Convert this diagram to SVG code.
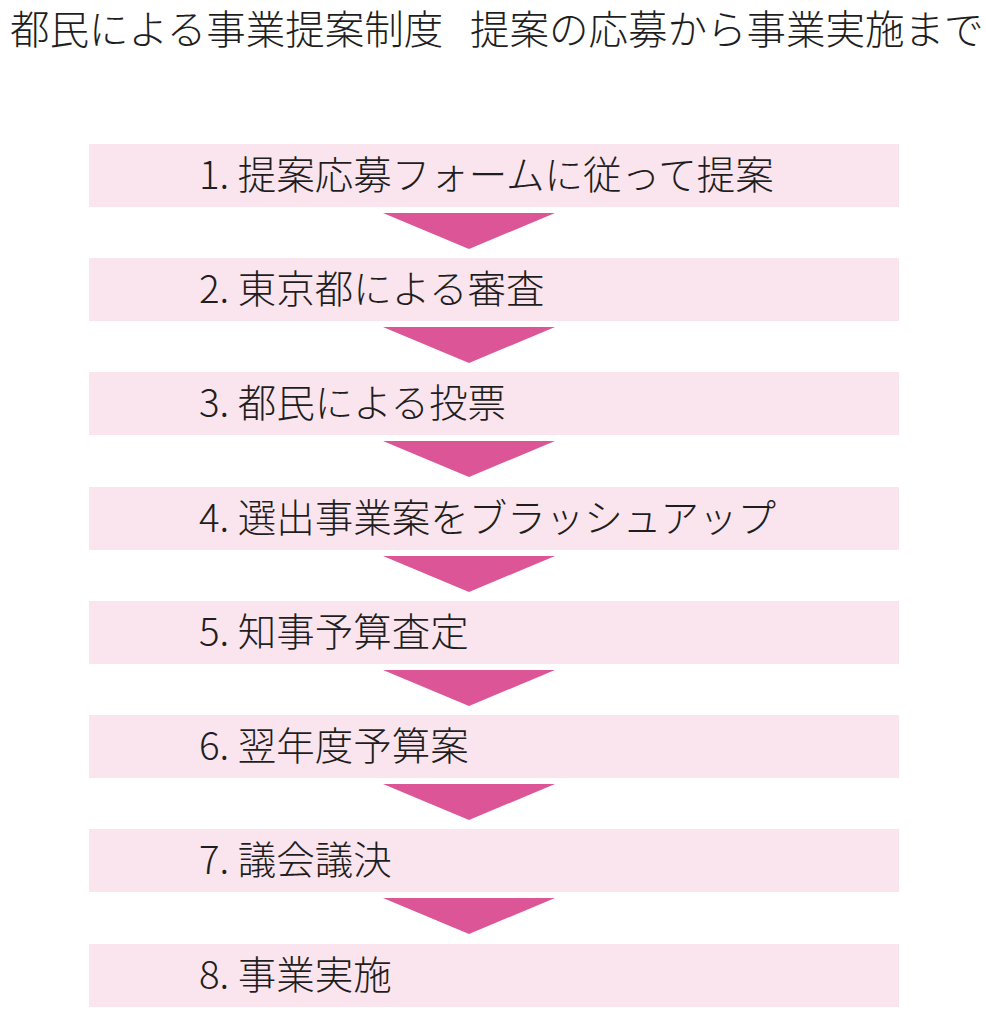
<svg xmlns="http://www.w3.org/2000/svg" width="986" height="1024" viewBox="0 0 986 1024">
<style>
.t{font-family:"Noto Sans CJK JP","Noto Sans",sans-serif;fill:#1e1e1e;font-weight:300;}
.title{font-size:39.5px;}
.lbl{font-size:38.5px;}
.box{fill:#fae4ed;}
.arr{fill:#dc5597;}
</style>
<rect width="986" height="1024" fill="#ffffff"/>
<g id="title">
<text class="t title" x="10" y="44">都民による事業提案制度</text>
<text class="t title" x="470" y="44">提案の応募から事業実施まで</text>
</g>
<g id="connectors">
<polygon class="arr" points="383,213 555,213 469,249"/>
<polygon class="arr" points="383,327 555,327 469,363"/>
<polygon class="arr" points="383,441 555,441 469,477"/>
<polygon class="arr" points="383,556 555,556 469,592"/>
<polygon class="arr" points="383,670 555,670 469,706"/>
<polygon class="arr" points="383,784 555,784 469,820"/>
<polygon class="arr" points="383,898 555,898 469,934"/>
</g>
<g id="n1"><rect class="box" x="89" y="144" width="810" height="63"/><text class="t lbl" x="199" y="189">1. 提案応募フォームに従って提案</text></g>
<g id="n2"><rect class="box" x="89" y="258" width="810" height="63"/><text class="t lbl" x="199" y="303">2. 東京都による審査</text></g>
<g id="n3"><rect class="box" x="89" y="372" width="810" height="63"/><text class="t lbl" x="199" y="417">3. 都民による投票</text></g>
<g id="n4"><rect class="box" x="89" y="487" width="810" height="63"/><text class="t lbl" x="199" y="532">4. 選出事業案をブラッシュアップ</text></g>
<g id="n5"><rect class="box" x="89" y="601" width="810" height="63"/><text class="t lbl" x="199" y="646">5. 知事予算査定</text></g>
<g id="n6"><rect class="box" x="89" y="715" width="810" height="63"/><text class="t lbl" x="199" y="760">6. 翌年度予算案</text></g>
<g id="n7"><rect class="box" x="89" y="829" width="810" height="63"/><text class="t lbl" x="199" y="874">7. 議会議決</text></g>
<g id="n8"><rect class="box" x="89" y="944" width="810" height="63"/><text class="t lbl" x="199" y="989">8. 事業実施</text></g>
</svg>
